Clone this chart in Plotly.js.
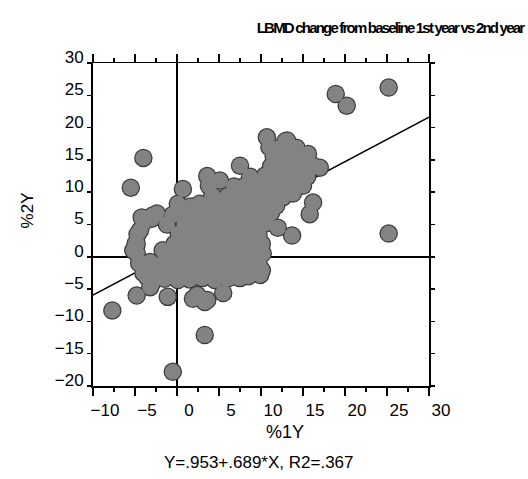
<!DOCTYPE html>
<html>
<head>
<meta charset="utf-8">
<script src="https://cdn.plot.ly/plotly-3.0.1.min.js"></script>
<style>
html,body{margin:0;padding:0;background:#fff;}
#chart{width:528px;height:479px;}
#chart .gtitle{letter-spacing:-1.8px;}
</style>
</head>
<body>
<div id="chart"></div>
<script>
// Data (% change from baseline, year 1 vs year 2)
const xRange = [-10, 30];
const yRange = [-20, 30];
const intercept = 0.953;
const slope = 0.689;

const pctY1 = [
  // outliers
  -4.0, -5.5, 0.7, 0.1, 3.6, 5.1, 7.5, 10.7, 13.1, 12.9, 18.9, 20.2, 25.2, 25.2,
  12.3, 13.8, 15.6, 17.0, 14.3, 11.9, 12.6, 16.2, 15.8, 12.0, 13.7, 10.3, 8.7,
  -7.7, -0.5, 3.3, -1.1, 5.5, -4.8, 3.3, 1.9, 2.4, 3.6, -3.2, -3.0, 9.9, 8.3, 6.7,
  // left edge
  -4.4, -4.8, -5.0, -5.2, -4.4, -3.6, -2.9, -2.4, -4.2, -1.7, 0.1, -0.2,
  // bottom row
  -3.2, -1.5, 0.0, 1.5, 3.0, 4.5, 6.0, 7.5, 8.5, 9.9, 10.1, 10.1,
  // row -2.5
  -4.0, -2.8, -1.2, 0.3, 1.8, 3.2, 4.7, 6.2, 7.6, 9.0, 10.0,
  // row -1
  -4.5, -3.2, -1.8, -0.3, 1.2, 2.6, 4.1, 5.6, 7.0, 8.4, 9.7,
  // row 0.5
  -4.8, -0.5, 0.8, 2.2, 3.6, 5.0, 6.5, 7.9, 9.3, 10.2,
  // row 2
  -4.9, -0.3, 1.2, 2.6, 4.0, 5.5, 7.0, 8.4, 9.8,
  // row 3.5
  -4.7, 0.2, 1.7, 3.1, 4.6, 6.0, 7.4, 8.9, 9.7,
  // row 5
  -4.0, -1.2, 0.9, 2.3, 3.8, 5.3, 6.8, 8.2, 9.6, 10.6,
  // row 6.5
  -3.0, -0.5, 1.0, 2.6, 4.2, 5.6, 7.1, 8.5, 10.0, 11.2,
  // row 8
  1.6, 3.2, 4.7, 6.2, 7.7, 9.2, 10.6, 11.8,
  // row 9.5
  2.7, 4.2, 6.0, 7.5, 8.9, 10.3, 11.5, 13.8,
  // row 11
  3.8, 6.8, 8.2, 9.9, 11.2, 12.5, 13.5, 15.0,
  // row 12.5
  8.7, 10.5, 12.0, 13.0, 15.5,
  // row 14+
  11.2, 13.5, 14.8, 16.2, 11.5, 12.3, 13.5, 15.0, 11.0, 12.2, 13.0, 14.2
];

const pctY2 = [
  // outliers
  15.3, 10.7, 10.5, 8.2, 12.5, 11.8, 14.1, 18.5, 18.0, 17.9, 25.2, 23.4, 26.2, 3.6,
  15.3, 12.9, 15.9, 13.8, 12.3, 13.8, 9.2, 8.4, 6.6, 4.5, 3.3, 7.2, 11.8,
  -8.3, -17.8, -12.1, -6.2, -5.6, -6.0, -7.0, -6.5, -5.9, -6.7, -4.7, -4.1, -2.6, -2.9, -3.1,
  // left edge
  4.1, 2.0, 1.5, 1.0, -1.0, -3.1, 6.4, 6.7, 6.1, 1.0, -3.6, -2.9,
  // bottom row
  -3.3, -3.4, -3.2, -3.5, -3.3, -3.6, -3.4, -3.3, -3.0, -2.8, 2.0, -2.1,
  // row -2.5
  -2.5, -2.3, -2.6, -2.4, -2.7, -2.4, -2.6, -2.3, -2.5, -2.4, -2.2,
  // row -1
  -1.0, -0.8, -1.1, -0.9, -1.2, -0.9, -1.0, -1.1, -0.8, -1.0, -0.9,
  // row 0.5
  0.6, 0.4, 0.5, 0.7, 0.4, 0.6, 0.5, 0.3, 0.6, 0.5,
  // row 2
  2.1, 2.0, 1.9, 2.2, 2.0, 1.8, 2.1, 2.0, 1.9,
  // row 3.5
  3.5, 3.6, 3.4, 3.5, 3.7, 3.4, 3.6, 3.5, 3.4,
  // row 5
  5.3, 5.0, 5.1, 4.9, 5.2, 5.0, 4.8, 5.1, 5.0, 5.2,
  // row 6.5
  5.9, 6.5, 6.6, 6.4, 6.7, 6.5, 6.4, 6.6, 6.5, 6.8,
  // row 8
  7.8, 8.0, 8.1, 7.9, 8.2, 8.0, 8.1, 7.9,
  // row 9.5
  8.2, 9.5, 9.4, 9.6, 9.5, 9.7, 9.4, 9.8,
  // row 11
  11.0, 10.9, 11.1, 11.0, 11.2, 10.9, 11.1, 11.0,
  // row 12.5
  12.4, 12.6, 12.5, 12.7, 12.4,
  // row 14+
  14.0, 14.2, 13.9, 14.1, 15.6, 15.4, 15.5, 15.7, 17.0, 16.8, 17.1, 16.9
];

const lineX = xRange.slice();
const lineY = lineX.map(v => intercept + slope * v);

const font = 'Liberation Sans, Arial, sans-serif';

const traces = [
  {
    x: lineX, y: lineY, mode: 'lines', type: 'scatter',
    line: {color: '#000', width: 1.5}, hoverinfo: 'skip', showlegend: false
  },
  // dark rim layer (gives the merged blob its dark outline)
  {
    x: pctY1, y: pctY2, mode: 'markers', type: 'scatter',
    marker: {size: 18.5, color: '#3c3c3c', line: {width: 0}},
    showlegend: false, hoverinfo: 'skip'
  },
  // grey fill layer
  {
    x: pctY1, y: pctY2, mode: 'markers', type: 'scatter',
    marker: {size: 16, color: '#838383', line: {width: 0}},
    showlegend: false
  }
];

const axisCommon = {
  showline: true, linecolor: '#000', linewidth: 1.5, mirror: 'ticks',
  showgrid: false, zeroline: true, zerolinecolor: '#000', zerolinewidth: 1.5,
  ticks: 'outside', tickcolor: '#000', tickwidth: 1.5,
  tickfont: {family: font, size: 17, color: '#000'}
};

const layout = {
  width: 528, height: 479,
  margin: {l: 93, r: 99, t: 63, b: 93},
  paper_bgcolor: '#fff', plot_bgcolor: '#fff',
  showlegend: false,
  title: {
    text: '<b>LBMD change from baseline 1st year vs 2nd year</b>',
    font: {family: font, size: 15, color: '#000'},
    x: 390 / 528, xref: 'container', xanchor: 'center',
    y: 1 - 28 / 479, yref: 'container', yanchor: 'middle'
  },
  xaxis: Object.assign({}, axisCommon, {
    range: xRange, tick0: -10, dtick: 5, ticklen: 8,
    ticklabelshift: 12,
    minor: {dtick: 2.5, ticks: 'outside', ticklen: 4, tickcolor: '#000', tickwidth: 1.2}
  }),
  yaxis: Object.assign({}, axisCommon, {
    range: yRange, tick0: -20, dtick: 5, ticklen: 4, linewidth: 2,
    ticklabelshift: -6, ticklabelstandoff: 0
  }),
  annotations: [
    {text: '%1Y', xref: 'paper', yref: 'paper', x: 0.571, y: -0.142,
     xanchor: 'center', yanchor: 'middle', showarrow: false,
     font: {family: font, size: 18, color: '#000'}},
    {text: 'Y=.953+.689*X, R2=.367', xref: 'paper', yref: 'paper', x: 0.494, y: -0.238,
     xanchor: 'center', yanchor: 'middle', showarrow: false,
     font: {family: font, size: 17, color: '#000'}},
    {text: '%2Y', xref: 'paper', yref: 'paper', x: -0.196, y: 0.544,
     xanchor: 'center', yanchor: 'middle', showarrow: false, textangle: -90,
     font: {family: font, size: 17, color: '#000'}}
  ]
};

Plotly.newPlot('chart', traces, layout, {displayModeBar: false, staticPlot: true});
</script>
</body>
</html>
